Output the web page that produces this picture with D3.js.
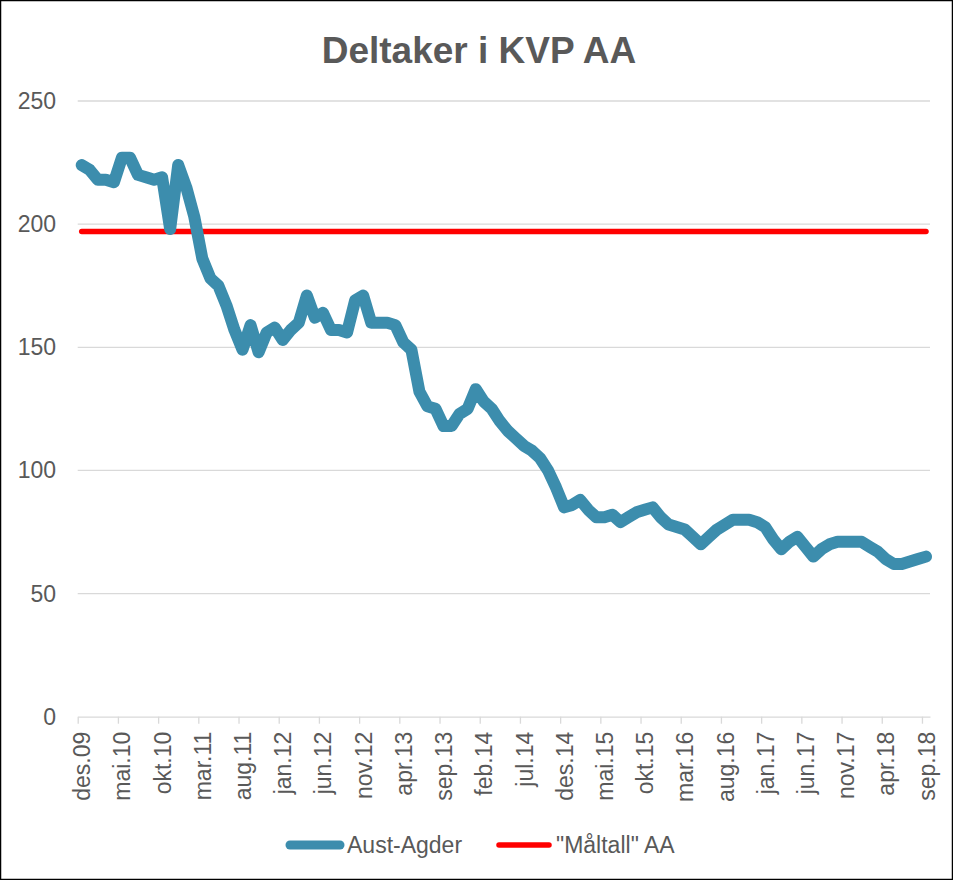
<!DOCTYPE html>
<html>
<head>
<meta charset="utf-8">
<script src="https://cdn.jsdelivr.net/npm/d3@7"></script>
<style>
    body { margin: 0; background: #fff; }
    text { font-family: "Liberation Sans", Arial, sans-serif; fill: #595959; }
</style>
</head>
<body>
<div id="chart"></div>
<script>

// month names (norwegian short form), series runs des.09 -> sep.18
var monthNames = ["jan", "feb", "mar", "apr", "mai", "jun", "jul", "aug", "sep", "okt", "nov", "des"];

var categories = [];
for (var m = 11 + 12 * 9; m <= 8 + 12 * 18; m++) {
    categories.push(monthNames[m % 12] + "." + d3.format("02")(Math.floor(m / 12)));
}

// Aust-Agder participants, one value per month
var austAgder = [
    224, 222, 218, 218, 217, 227, 227, 220, 219, 218,
    219, 198, 224, 215, 203, 186, 178, 175, 167, 157,
    149, 159, 148, 156, 158, 153, 157, 160, 171, 162,
    164, 157, 157, 156, 169, 171, 160, 160, 160, 159,
    152, 149, 132, 126, 125, 118, 118, 123, 125, 133,
    128, 125, 120, 116, 113, 110, 108, 105, 100, 93,
    85, 86, 88, 84, 81, 81, 82, 79, 81, 83,
    84, 85, 81, 78, 77, 76, 73, 70, 73, 76,
    78, 80, 80, 80, 79, 77, 72, 68, 71, 73,
    69, 65, 68, 70, 71, 71, 71, 71, 69, 67,
    64, 62, 62, 63, 64, 65
];

// "Måltall" AA - target
var target = 197;

var yTicks = [0, 50, 100, 150, 200, 250];
var tickLabels = categories.filter(function(d, i) { return i % 5 == 0; });

var seriesNames = ["Aust-Agder", "\"Måltall\" AA"];
var seriesColors = ["#3c8dad", "#ff0000"];


var width = 953, height = 880;

var svg = d3.select("#chart").append("svg")
    .attr("width", width)
    .attr("height", height);

// outer border
svg.append("rect")
    .attr("x", 0.5).attr("y", 0.5)
    .attr("width", width - 1).attr("height", height - 1)
    .attr("fill", "#fff")
    .attr("stroke", "#000")
    .attr("stroke-width", 1.5);

var x = d3.scalePoint()
    .domain(categories)
    .range([77.7, 930])
    .padding(0.5);

var y = d3.scaleLinear()
    .domain([0, 250])
    .range([716.7, 101]);

// title
svg.append("text")
    .attr("x", 479)
    .attr("y", 63)
    .attr("text-anchor", "middle")
    .style("font-size", "37px")
    .style("font-weight", "bold")
    .text("Deltaker i KVP AA");

// gridlines
svg.selectAll(".grid")
    .data(yTicks.filter(function(d) { return d > 0; }))
    .enter().append("line")
    .attr("class", "grid")
    .attr("x1", 77.7)
    .attr("x2", 930)
    .attr("y1", function(d) { return y(d); })
    .attr("y2", function(d) { return y(d); })
    .attr("stroke", "#d9d9d9")
    .attr("stroke-width", 1.3);

// y labels
svg.selectAll(".ylabel")
    .data(yTicks)
    .enter().append("text")
    .attr("class", "ylabel")
    .attr("x", 56)
    .attr("y", function(d) { return y(d); })
    .attr("dy", "0.35em")
    .attr("text-anchor", "end")
    .style("font-size", "23px")
    .text(function(d) { return d; });

// x axis, ticks sit between categories
var step = x.step();
var xAxis = d3.axisBottom(x)
    .tickValues(tickLabels)
    .tickSizeInner(7)
    .tickSizeOuter(0);

var xg = svg.append("g")
    .attr("transform", "translate(0," + y(0) + ")")
    .call(xAxis);

xg.select(".domain").attr("stroke", "#d9d9d9").attr("stroke-width", 1.3);
xg.selectAll(".tick line")
    .attr("x1", -step / 2).attr("x2", -step / 2)
    .attr("stroke", "#d9d9d9").attr("stroke-width", 1.3);
xg.selectAll(".tick text")
    .attr("transform", "rotate(-90)")
    .attr("x", -15)
    .attr("y", 0)
    .attr("dy", "0.35em")
    .attr("text-anchor", "end")
    .style("font-size", "23px")
    .style("font-family", "\"Liberation Sans\", Arial, sans-serif")
    .attr("fill", "#595959");

// target line
var targetLine = d3.line()
    .x(function(d) { return x(d); })
    .y(function() { return y(target); });

svg.append("path")
    .datum(categories)
    .attr("d", targetLine)
    .attr("fill", "none")
    .attr("stroke", seriesColors[1])
    .attr("stroke-width", 5.5)
    .attr("stroke-linecap", "round");

// participants line
var line = d3.line()
    .x(function(d, i) { return x(categories[i]); })
    .y(function(d) { return y(d); });

svg.append("path")
    .datum(austAgder)
    .attr("d", line)
    .attr("fill", "none")
    .attr("stroke", seriesColors[0])
    .attr("stroke-width", 12)
    .attr("stroke-linejoin", "round")
    .attr("stroke-linecap", "round");

// legend
var legendX = [290, 499];
var legend = svg.selectAll(".legend")
    .data(seriesNames)
    .enter().append("g")
    .attr("class", "legend")
    .attr("transform", function(d, i) { return "translate(" + legendX[i] + ",845)"; });

legend.append("line")
    .attr("x1", 0).attr("x2", 50)
    .attr("stroke", function(d, i) { return seriesColors[i]; })
    .attr("stroke-width", function(d, i) { return i == 0 ? 9 : 5.5; })
    .attr("stroke-linecap", "round");

legend.append("text")
    .attr("x", function(d, i) { return i == 0 ? 57 : 57; })
    .attr("dy", "0.35em")
    .style("font-size", "23px")
    .text(function(d) { return d; });

</script>
</body>
</html>
